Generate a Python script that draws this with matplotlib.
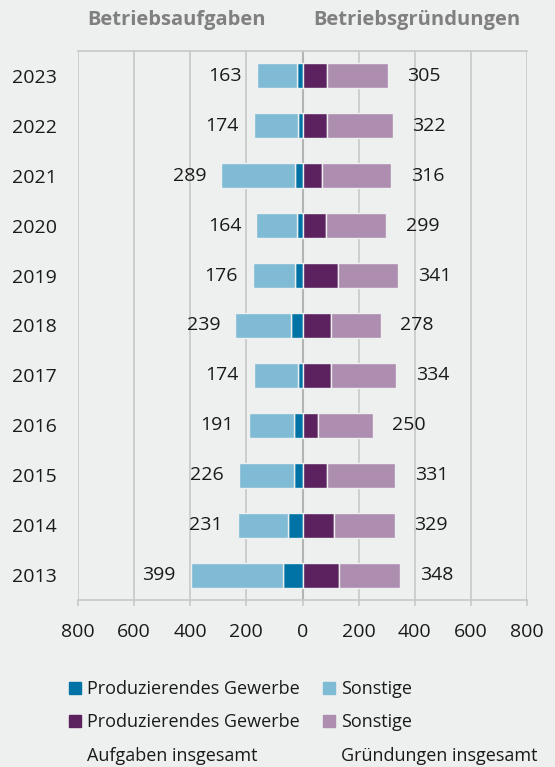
import matplotlib.pyplot as plt
from matplotlib.patches import Patch
from matplotlib.ticker import FuncFormatter

# data
years = [2013, 2014, 2015, 2016, 2017, 2018, 2019, 2020, 2021, 2022, 2023]
aufgaben_total = [399, 231, 226, 191, 174, 239, 176, 164, 289, 174, 163]
aufgaben_pg = [70, 51, 32, 30, 15, 40, 26, 20, 26, 17, 20]
gruendungen_total = [348, 329, 331, 250, 334, 278, 341, 299, 316, 322, 305]
gruendungen_pg = [129, 111, 89, 57, 100, 100, 126, 82, 69, 86, 89]
xticks = [-800, -600, -400, -200, 0, 200, 400, 600, 800]

bg = '#eef0ef'
c_pg_a = '#0073a6'
c_so_a = '#80bbd6'
c_pg_g = '#5c2260'
c_so_g = '#ad8eb0'
grid_c = '#c8c8c8'
txt_c = '#1a1a1a'

plt.rcParams['font.family'] = ['Open Sans', 'DejaVu Sans']

fig = plt.figure(figsize=(5.55, 7.67), dpi=100, facecolor=bg)
ax = fig.add_axes([78 / 555, 1 - 600 / 767, 449 / 555, 549 / 767], facecolor=bg)

y = list(range(len(years)))
so_a = [t - p for t, p in zip(aufgaben_total, aufgaben_pg)]
so_g = [t - p for t, p in zip(gruendungen_total, gruendungen_pg)]
h = 0.5
kw = dict(height=h, edgecolor=bg, linewidth=1.0, zorder=3)

ax.barh(y, [-v for v in aufgaben_pg], color=c_pg_a, **kw)
ax.barh(y, [-v for v in so_a], left=[-v for v in aufgaben_pg], color=c_so_a, **kw)
ax.barh(y, gruendungen_pg, color=c_pg_g, **kw)
ax.barh(y, so_g, left=gruendungen_pg, color=c_so_g, **kw)

# totals next to the bars
for yi, a, g in zip(y, aufgaben_total, gruendungen_total):
    ax.annotate(str(a), (-a, yi), xytext=(-11, 0), textcoords='offset points',
                ha='right', va='center', fontsize=14, color=txt_c)
    ax.annotate(str(g), (g, yi), xytext=(14, 0), textcoords='offset points',
                ha='left', va='center', fontsize=14, color=txt_c)

ax.set_xlim(-800, 800)
ax.set_ylim(-0.5, len(years) - 0.5)
ax.set_xticks(xticks)
ax.xaxis.set_major_formatter(FuncFormatter(lambda v, p: f'{abs(int(v))}'))
ax.set_yticks(y)
ax.set_yticklabels([str(v) for v in years])

for v in xticks:
    if v == 0:
        ax.axvline(v, color='#b4b4b4', lw=1.5, zorder=1)
    else:
        ax.axvline(v, color=grid_c, lw=1.2, zorder=1)

for s in ['left', 'right']:
    ax.spines[s].set_visible(False)
for s in ['top', 'bottom']:
    ax.spines[s].set_color(grid_c)
    ax.spines[s].set_linewidth(1.2)

ax.tick_params(axis='x', colors=grid_c, length=4.5, width=1.2, pad=12,
               labelcolor=txt_c, labelsize=14)
ax.tick_params(axis='y', length=0, pad=15, labelcolor=txt_c, labelsize=14)

fig.text(177 / 555, 1 - 20 / 767, 'Betriebsaufgaben', ha='center', va='center',
         fontsize=14.5, fontweight='bold', color='#808080')
fig.text(417 / 555, 1 - 20 / 767, 'Betriebsgründungen', ha='center', va='center',
         fontsize=14.5, fontweight='bold', color='#808080')

empty = Patch(facecolor='none', edgecolor='none')
handles = [Patch(color=c_pg_a), Patch(color=c_pg_g), empty,
           Patch(color=c_so_a), Patch(color=c_so_g), empty]
labels = ['Produzierendes Gewerbe', 'Produzierendes Gewerbe', 'Aufgaben insgesamt',
          'Sonstige', 'Sonstige', 'Gründungen insgesamt']
fig.legend(handles, labels, ncol=2, loc='upper left',
           bbox_to_anchor=(69 / 555, 1 - 680 / 767), frameon=False,
           fontsize=13, handlelength=0.65, handleheight=0.65, handletextpad=0.35,
           columnspacing=1.3, labelspacing=0.85, borderpad=0, borderaxespad=0,
           labelcolor=txt_c)

fig.savefig('out.png', dpi=100, facecolor=bg)
